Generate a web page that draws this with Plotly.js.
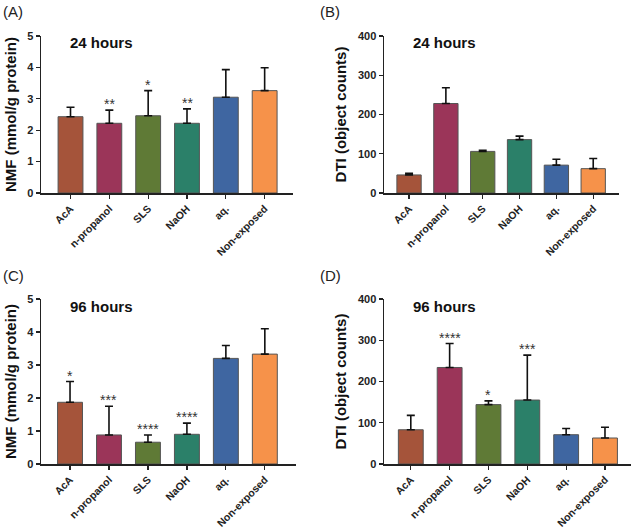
<!DOCTYPE html>
<html>
<head>
<meta charset="utf-8">
<script src="https://cdn.plot.ly/plotly-3.0.1.min.js"></script>
<style>html,body{margin:0;padding:0;background:#fff;}#chart{width:633px;height:530px;}</style>
</head>
<body>
<div id="chart"></div>
<script>
// ---- data ----
const categories = ["AcA", "n-propanol", "SLS", "NaOH", "aq.", "Non-exposed"];
const colors = ["#A5543A", "#9B3559", "#5F7A36", "#2B8069", "#3F66A1", "#F6924A"];

const nmf24 = [2.43, 2.22, 2.46, 2.22, 3.05, 3.26];
const nmf24Err = [2.73, 2.64, 3.26, 2.68, 3.93, 3.99];   // top of error bar
const nmf24Stars = ["", "**", "*", "**", "", ""];

const dti24 = [46, 228, 106, 136, 71, 62];
const dti24Err = [50, 268, 109, 145, 86, 88];
const dti24Stars = ["", "", "", "", "", ""];

const nmf96 = [1.87, 0.88, 0.66, 0.90, 3.20, 3.33];
const nmf96Err = [2.50, 1.75, 0.88, 1.24, 3.59, 4.10];
const nmf96Stars = ["*", "***", "****", "****", "", ""];

const dti96 = [83, 234, 144, 155, 71, 63];
const dti96Err = [118, 292, 153, 264, 86, 89];
const dti96Stars = ["", "****", "*", "***", "", ""];

const panelLetters = ["(A)", "(B)", "(C)", "(D)"];
const timeLabels = ["24 hours", "24 hours", "96 hours", "96 hours"];
const yTitles = ["NMF (mmol/g protein)", "DTI (object counts)", "NMF (mmol/g protein)", "DTI (object counts)"];
const yMax = [5, 400, 5, 400];
const yDtick = [1, 100, 1, 100];

// ---- layout helpers ----
const W = 633, H = 530;
const FONT = "Arial, 'Liberation Sans', sans-serif";
const panels = [
  {x0: 41, x1: 293, yTop: 36, yBot: 193, xr: [-0.76, 5.73], vals: nmf24, err: nmf24Err, stars: nmf24Stars, bw: 0.64},
  {x0: 384, x1: 619, yTop: 36, yBot: 193, xr: [-0.68, 5.70], vals: dti24, err: dti24Err, stars: dti24Stars, bw: 0.66},
  {x0: 41, x1: 296, yTop: 299, yBot: 464, xr: [-0.745, 5.8], vals: nmf96, err: nmf96Err, stars: nmf96Stars, bw: 0.64},
  {x0: 384, x1: 631, yTop: 299, yBot: 464, xr: [-0.69, 5.67], vals: dti96, err: dti96Err, stars: dti96Stars, bw: 0.64}
];

const data = [];
const layout = {
  width: W, height: H,
  margin: {l: 0, r: 0, t: 0, b: 0},
  paper_bgcolor: "#fff", plot_bgcolor: "#fff",
  showlegend: false,
  font: {family: FONT, color: "#222"},
  annotations: []
};

panels.forEach((p, i) => {
  const n = i + 1;
  const xa = n === 1 ? "x" : "x" + n;
  const ya = n === 1 ? "y" : "y" + n;
  const xk = n === 1 ? "xaxis" : "xaxis" + n;
  const yk = n === 1 ? "yaxis" : "yaxis" + n;

  data.push({
    type: "bar",
    x: categories,
    y: p.vals,
    xaxis: xa, yaxis: ya,
    width: p.bw,
    marker: {color: colors, line: {color: "#555", width: 1}},
    error_y: {
      type: "data", symmetric: false,
      array: p.err.map((e, k) => e - p.vals[k]),
      arrayminus: p.vals.map(() => 0),
      color: "#111", thickness: 1.6, width: 4
    },
    hoverinfo: "none"
  });

  layout[xk] = {
    type: "category",
    domain: [p.x0 / W, p.x1 / W],
    anchor: ya,
    range: p.xr,
    tickangle: -45,
    ticks: "outside", ticklen: 4, tickwidth: 1.2, tickcolor: "#222",
    showline: true, linecolor: "#222", linewidth: 1.5,
    showgrid: false, zeroline: false,
    tickfont: {family: FONT, size: 10.5, color: "#222", weight: "bold"},
    fixedrange: true
  };
  layout[yk] = {
    domain: [1 - p.yBot / H, 1 - p.yTop / H],
    anchor: xa,
    range: [0, yMax[i]],
    dtick: yDtick[i],
    ticks: "outside", ticklen: 4, tickwidth: 1.2, tickcolor: "#222",
    showline: true, linecolor: "#222", linewidth: 1.5,
    showgrid: false, zeroline: false,
    tickfont: {family: FONT, size: 11, color: "#222", weight: "bold"},
    title: {text: yTitles[i], font: {family: FONT, size: 15, color: "#111", weight: "bold"}, standoff: 7},
    fixedrange: true
  };

  // significance stars
  p.stars.forEach((s, k) => {
    if (!s) return;
    layout.annotations.push({
      xref: xa, yref: ya, x: categories[k], y: p.err[k],
      text: s, showarrow: false, yanchor: "bottom", yshift: -4,
      font: {family: FONT, size: 14, color: "#333"}
    });
  });

  // time label
  layout.annotations.push({
    xref: "paper", yref: "paper",
    x: (p.x0 + 27) / W, y: 1 - (p.yTop + 7) / H,
    xanchor: "left", yanchor: "middle",
    text: "<b>" + timeLabels[i] + "</b>", showarrow: false,
    font: {family: FONT, size: 15, color: "#111"}
  });

  // panel letter
  layout.annotations.push({
    xref: "paper", yref: "paper",
    x: (i % 2 === 0 ? 1 : 318) / W, y: 1 - (p.yTop - 24) / H,
    xanchor: "left", yanchor: "middle",
    text: panelLetters[i], showarrow: false,
    font: {family: FONT, size: 15, color: "#222"}
  });
});

Plotly.newPlot("chart", data, layout, {displayModeBar: false, staticPlot: true});
</script>
</body>
</html>
